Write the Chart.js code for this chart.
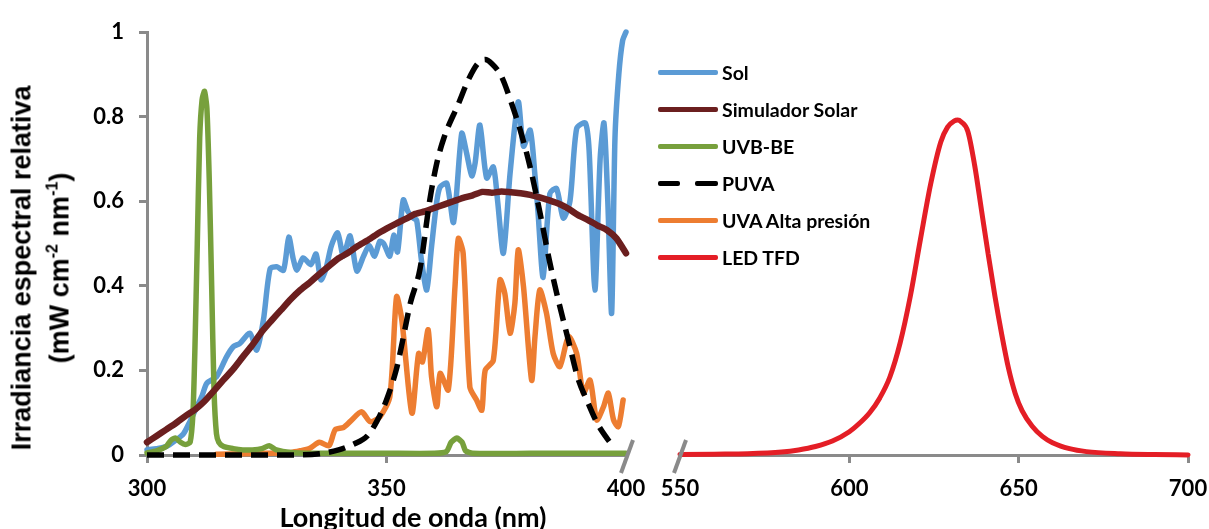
<!DOCTYPE html>
<html>
<head>
<meta charset="utf-8">
<script src="https://cdn.jsdelivr.net/npm/chart.js@4.4.0/dist/chart.umd.min.js"></script>
<style>
html,body{margin:0;padding:0;background:#fff;}
#wrap{position:relative;width:1209px;height:529px;overflow:hidden;background:#fff;}
#cL{position:absolute;left:0;top:0;}
#cR{position:absolute;left:640px;top:0;}
.ytitle{position:absolute;left:41px;top:268px;transform:translate(-50%,-50%) rotate(-90deg);font-family:"Liberation Sans",Arial,sans-serif;font-weight:bold;font-size:27px;line-height:37.5px;text-align:center;white-space:nowrap;color:#000;}
.ytitle sup{font-size:0.6em;line-height:0;vertical-align:0.65em;}
.xtitle{position:absolute;left:413px;top:503px;transform:translateX(-50%);font-family:Lato,sans-serif;font-weight:bold;font-size:27px;line-height:27px;white-space:nowrap;color:#000;}
#legend{position:absolute;left:658px;top:0;width:260px;height:300px;}
.li{position:absolute;left:0;height:24px;display:flex;align-items:center;white-space:nowrap;font-family:Lato,sans-serif;font-weight:bold;font-size:19.5px;color:#000;}
.sw{position:relative;width:60px;height:5px;margin-right:4px;}
.seg{position:absolute;top:0;height:5px;border-radius:2px;}
</style>
</head>
<body>
<div id="wrap">
  <canvas id="cL" width="660" height="529"></canvas>
  <canvas id="cR" width="569" height="529"></canvas>
  <div class="ytitle">Irradiancia espectral relativa<br>(mW cm<sup>-2</sup> nm<sup>-1</sup>)</div>
  <div class="xtitle">Longitud de onda (nm)</div>
  <div id="legend"></div>
</div>
<script>
// ---- Data ----
const seriesNames = ['Sol', 'Simulador Solar', 'UVB-BE', 'PUVA', 'UVA Alta presión', 'LED TFD'];

const yTicks = [0, 0.2, 0.4, 0.6, 0.8, 1];
const yTickLabels = ['0', '0.2', '0.4', '0.6', '0.8', '1'];
const xTicksLeft = [300, 350, 400];
const xTickLabelsLeft = ['300', '350', '400'];
const xTicksRight = [550, 600, 650, 700];
const xTickLabelsRight = ['550', '600', '650', '700'];

const solNm = [300,302,304,306,307.6,309,310.4,311.5,312.5,314.5,316.6,318,319.4,321.5,322.9,324.3,325.7,327.1,328.5,329.6,330.5,331.3,332.6,334.2,335.3,336.3,337.3,338.5,339.8,341,342.4,343.8,345.2,346.4,347.5,348.6,349.4,350.7,351.5,352.3,353.5,354.5,355.6,356.3,357.3,358.4,359.4,360.5,361.2,362.6,364,365.7,366.7,367.8,368.5,369.5,370.9,372.3,373.2,374.4,375.8,377.5,378.6,380,381,381.6,382.7,384.1,385.5,386.9,388.3,389.7,391.5,392.3,393.5,394.6,395.4,396.2,397,397.7,398.5,399.3,400];
const solVal = [0.012,0.015,0.02,0.035,0.05,0.08,0.114,0.14,0.17,0.185,0.232,0.256,0.264,0.288,0.248,0.319,0.44,0.445,0.437,0.515,0.465,0.437,0.466,0.45,0.475,0.414,0.438,0.495,0.525,0.47,0.518,0.435,0.47,0.495,0.47,0.505,0.5,0.47,0.52,0.48,0.603,0.575,0.56,0.555,0.46,0.39,0.492,0.6,0.634,0.642,0.55,0.76,0.715,0.66,0.69,0.78,0.655,0.681,0.6,0.477,0.666,0.835,0.73,0.768,0.66,0.58,0.42,0.618,0.63,0.56,0.6,0.772,0.785,0.72,0.39,0.7,0.785,0.6,0.335,0.75,0.9,0.98,1.0];

const simNm = [300,302,304,306,308,310,312,314,316,318,320,322,324,326,328,330,332,334,336,338,340,342,344,346,348,350,352,354,356,358,360,362,364,366,368,370,372,374,376,378,380,382,384,386,388,390,392,394,396,398,400];
const simVal = [0.03,0.045,0.06,0.075,0.092,0.107,0.127,0.152,0.178,0.203,0.232,0.26,0.292,0.318,0.343,0.368,0.39,0.408,0.428,0.447,0.465,0.478,0.494,0.507,0.522,0.535,0.547,0.558,0.57,0.576,0.584,0.592,0.6,0.608,0.614,0.622,0.62,0.623,0.621,0.619,0.615,0.609,0.602,0.594,0.582,0.567,0.556,0.543,0.532,0.512,0.477];

const uvbNm = [300,302,304,305,306,307,308,309,309.6,310,310.5,311,311.5,312,312.5,313,313.5,314,314.5,315,316,318,320,322,324,325.5,327,330,335,340,350,360,362.5,363.5,364.7,365.8,366.5,368,380,390,400];
const uvbVal = [0.005,0.01,0.02,0.035,0.04,0.03,0.025,0.03,0.1,0.25,0.5,0.75,0.84,0.86,0.82,0.65,0.4,0.15,0.05,0.03,0.02,0.015,0.012,0.012,0.015,0.022,0.012,0.006,0.004,0.004,0.004,0.004,0.008,0.03,0.04,0.03,0.01,0.004,0.004,0.004,0.004];

const puvaNm = [300,310,320,330,336,340,343,346,348,350,352,353,355,357,359,360.5,362,365,367,369,370.6,372,374,376,378,380,382,384,386,388,390,392,394,396,397];
const puvaVal = [0,0,0,0,0.003,0.012,0.025,0.045,0.08,0.13,0.2,0.25,0.36,0.44,0.6,0.69,0.75,0.83,0.885,0.925,0.935,0.925,0.895,0.835,0.765,0.68,0.575,0.46,0.36,0.27,0.18,0.125,0.075,0.04,0.025];

const uvaNm = [314.5,320,325,330,332,334,336,338,339.3,341,342.5,344.8,346.6,348.6,350.7,352.1,353.2,355.3,356.7,357.5,358.7,359.4,360.5,361.2,362.9,364.3,365,366,367.4,368.8,369.9,370.6,372.3,373.7,374.7,375.8,376.8,377.5,378.6,380.3,381,382,383.4,384.8,386.2,388,389.7,391.1,392.5,393.9,395.3,396.3,397.4,398.4,399.4];
const uvaVal = [0.002,0.003,0.004,0.006,0.01,0.016,0.03,0.022,0.06,0.065,0.08,0.102,0.079,0.09,0.138,0.374,0.319,0.099,0.24,0.22,0.296,0.185,0.114,0.193,0.154,0.398,0.512,0.477,0.161,0.13,0.106,0.2,0.224,0.414,0.382,0.288,0.359,0.485,0.398,0.177,0.28,0.39,0.335,0.24,0.209,0.28,0.24,0.146,0.177,0.083,0.114,0.146,0.083,0.067,0.13];

const ledNm = [550,560,570,580,585,590,595,600,603,606,609,612,615,618,621,624,627,629,631,632,633,635,637,639,641,643,645,647,649,651,654,657,660,665,670,680,690,700];
const ledVal = [0.001,0.002,0.003,0.007,0.012,0.02,0.033,0.055,0.075,0.1,0.135,0.185,0.265,0.375,0.51,0.64,0.74,0.775,0.79,0.792,0.788,0.765,0.685,0.58,0.475,0.375,0.285,0.205,0.145,0.105,0.068,0.044,0.029,0.015,0.008,0.003,0.001,0.0];

// ---- Styles ----
const colors = ['#5B9BD5', '#6B1F1F', '#77A03C', '#000000', '#ED7D31', '#E41E26'];
const AXIS = '#8a8a8a';
const tickFont = {family: 'Lato', weight: 'bold', size: 22};

const pts = (xs, ys) => xs.map((x, i) => ({x: x, y: ys[i]}));

function lineDs(idx, xs, ys, extra) {
  return Object.assign({
    label: seriesNames[idx],
    data: pts(xs, ys),
    borderColor: colors[idx],
    backgroundColor: colors[idx],
    borderWidth: 5.5,
    pointRadius: 0,
    fill: false,
    tension: 0.25,
    clip: 12,
    borderJoinStyle: 'round'
  }, extra || {});
}

function breakPlugin(value, dx1, dy1, dx2, dy2) {
  return {
    id: 'axisBreak',
    afterDraw(chart) {
      const s = chart.scales.x;
      const x = s.getPixelForValue(value);
      const y = s.top;
      const c = chart.ctx;
      c.save();
      c.strokeStyle = AXIS;
      c.lineWidth = 4;
      c.beginPath();
      c.moveTo(x + dx1, y + dy1);
      c.lineTo(x + dx2, y + dy2);
      c.stroke();
      c.restore();
    }
  };
}

function xScale(min, max, tickVals, tickLabels, hiddenTick) {
  return {
    type: 'linear', min: min, max: max,
    afterBuildTicks: (s) => { s.ticks = tickVals.map(v => ({value: v})); },
    afterFit: (s) => { s.height = 74; s.paddingLeft = 0; s.paddingRight = 0; },
    ticks: {
      font: tickFont, color: '#000', padding: 13, maxRotation: 0, autoSkip: false,
      callback: (v) => tickLabels[tickVals.indexOf(v)]
    },
    grid: {
      drawOnChartArea: false, drawTicks: true, tickLength: 8, tickWidth: 3,
      tickColor: (ctx) => (ctx.tick && ctx.tick.value === hiddenTick) ? 'rgba(0,0,0,0)' : AXIS
    },
    border: {display: true, color: AXIS, width: 3}
  };
}

const common = {
  responsive: false, animation: false, devicePixelRatio: 1,
  plugins: {legend: {display: false}, tooltip: {enabled: false}, title: {display: false}},
  elements: {line: {borderCapStyle: 'round'}}
};

// Left chart (300–400 nm)
new Chart(document.getElementById('cL'), {
  type: 'line',
  data: {
    datasets: [
      lineDs(3, puvaNm, puvaVal, {borderDash: [17, 9], borderCapStyle: 'butt', cubicInterpolationMode: 'monotone', order: 0}),
      lineDs(1, simNm, simVal, {borderWidth: 6.5, tension: 0.2, order: 1}),
      lineDs(2, uvbNm, uvbVal, {tension: 0.2, order: 2}),
      lineDs(0, solNm, solVal, {order: 3}),
      lineDs(4, uvaNm, uvaVal, {order: 4})
    ]
  },
  options: Object.assign({}, common, {
    layout: {padding: {top: 32, right: 34, left: 0, bottom: 0}},
    scales: {
      x: xScale(300, 400, xTicksLeft, xTickLabelsLeft, 400),
      y: {
        min: 0, max: 1,
        afterBuildTicks: (s) => { s.ticks = yTicks.map(v => ({value: v})); },
        afterFit: (s) => { s.width = 147; s.paddingTop = 0; s.paddingBottom = 0; },
        ticks: {font: tickFont, color: '#000', padding: 15,
          callback: (v) => yTickLabels[yTicks.indexOf(v)]},
        grid: {drawOnChartArea: false, drawTicks: true, tickLength: 8, tickWidth: 3, tickColor: AXIS},
        border: {display: true, color: AXIS, width: 3}
      }
    }
  }),
  plugins: [breakPlugin(400, -5, 18, 7, -15)]
});

// Right chart (550–700 nm)
new Chart(document.getElementById('cR'), {
  type: 'line',
  data: {
    datasets: [
      lineDs(5, ledNm, ledVal, {borderWidth: 5, cubicInterpolationMode: 'monotone'})
    ]
  },
  options: Object.assign({}, common, {
    layout: {padding: {top: 32, right: 21, left: 40, bottom: 0}},
    scales: {
      x: xScale(550, 700, xTicksRight, xTickLabelsRight, 550),
      y: {min: 0, max: 1, display: false}
    }
  }),
  plugins: [breakPlugin(550, -6, 18, 6, -15)]
});

// Legend (HTML, built from the series names and styles)
const legendY = [72, 109, 146, 183, 220, 257];
const legend = document.getElementById('legend');
seriesNames.forEach((name, i) => {
  const item = document.createElement('div');
  item.className = 'li';
  item.style.top = (legendY[i] - 12) + 'px';
  const sw = document.createElement('div');
  sw.className = 'sw';
  const segs = (i === 3) ? [[0, 22], [37, 23]] : [[0, 60]];
  segs.forEach(([l, w]) => {
    const s = document.createElement('div');
    s.className = 'seg';
    s.style.left = l + 'px';
    s.style.width = w + 'px';
    s.style.background = colors[i];
    sw.appendChild(s);
  });
  item.appendChild(sw);
  const t = document.createElement('span');
  t.textContent = name;
  item.appendChild(t);
  legend.appendChild(item);
});
</script>
</body>
</html>
